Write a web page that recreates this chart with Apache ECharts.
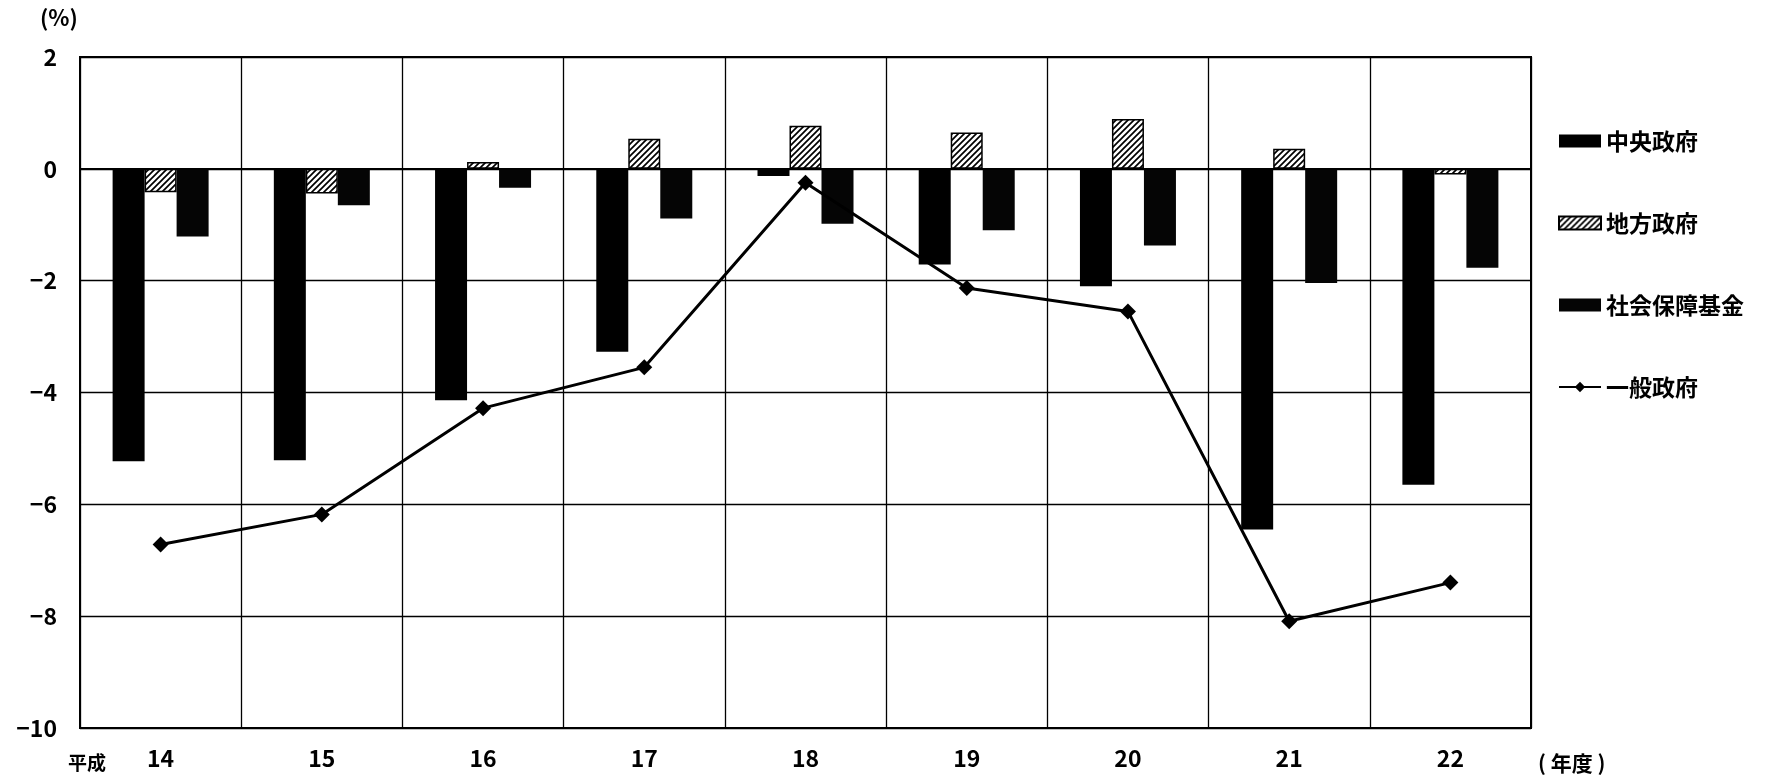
<!DOCTYPE html>
<html>
<head>
<meta charset="utf-8">
<script src="https://cdn.jsdelivr.net/npm/echarts@6/dist/echarts.min.js"></script>
<style>
html,body{margin:0;padding:0;background:#fff;}
#chart{width:1770px;height:783px;}
</style>
</head>
<body>
<div id="chart"></div>
<script>
// ---- data ----
const categories = ['14', '15', '16', '17', '18', '19', '20', '21', '22'];
const centralGov = [-5.23, -5.21, -4.14, -3.27, -0.13, -1.71, -2.10, -6.45, -5.65];
const localGov   = [-0.42, -0.44, 0.12, 0.54, 0.77, 0.65, 0.89, 0.36, -0.10];
const socialSec  = [-1.21, -0.65, -0.34, -0.89, -0.98, -1.10, -1.37, -2.04, -1.77];
const generalGov = [-6.72, -6.18, -4.28, -3.55, -0.25, -2.13, -2.55, -8.09, -7.40];
const seriesNames = ['中央政府', '地方政府', '社会保障基金', '一般政府'];
const yMin = -10, yMax = 2, yStep = 2;

const FONT = '"Noto Sans CJK JP", "DejaVu Sans", sans-serif';

function hatchPattern() {
  const s = 6;
  const c = document.createElement('canvas');
  c.width = s; c.height = s;
  const g = c.getContext('2d');
  g.fillStyle = '#fff';
  g.fillRect(0, 0, s, s);
  g.strokeStyle = '#000';
  g.lineWidth = 1.7;
  g.beginPath();
  g.moveTo(0, s); g.lineTo(s, 0);
  g.moveTo(-s / 2, s / 2); g.lineTo(s / 2, -s / 2);
  g.moveTo(s / 2, s * 1.5); g.lineTo(s * 1.5, s / 2);
  g.stroke();
  return c;
}

const chart = echarts.init(document.getElementById('chart'));
const option = {
  backgroundColor: '#fff',
  animation: false,
  grid: {
    left: 80, right: 239, top: 57, bottom: 55,
    show: true, borderColor: '#000', borderWidth: 2, backgroundColor: 'transparent'
  },
  legend: {
    orient: 'vertical',
    left: 1553, top: 124,
    itemWidth: 42, itemHeight: 13, itemGap: 58,
    data: [
      { name: seriesNames[0], icon: 'rect' },
      { name: seriesNames[1], icon: 'rect' },
      { name: seriesNames[2], icon: 'rect' },
      { name: seriesNames[3] }
    ],
    textStyle: { fontFamily: FONT, fontSize: 23, fontWeight: 'bold', color: '#000', lineHeight: 24 }
  },
  xAxis: {
    type: 'category',
    data: categories,
    axisLine: { onZero: false, show: false },
    axisTick: { show: false },
    axisLabel: { fontFamily: FONT, fontSize: 23, fontWeight: 'bold', color: '#000', margin: 19 },
    splitLine: { show: true, lineStyle: { color: '#000', width: 1.3 } }
  },
  yAxis: {
    type: 'value',
    min: yMin, max: yMax, interval: yStep,
    axisLine: { show: false },
    axisTick: { show: false },
    axisLabel: {
      fontFamily: FONT, fontSize: 23, fontWeight: 'bold', color: '#000', margin: 23,
      formatter: v => String(v).replace('-', '−')
    },
    splitLine: { show: true, lineStyle: { color: '#000', width: 1.3 } }
  },
  graphic: [
    { type: 'text', left: 40, top: 7, style: { text: '(%)', font: 'bold 22px ' + FONT, fill: '#000' } },
    { type: 'text', left: 68, top: 753, style: { text: '平成', font: 'bold 19px ' + FONT, fill: '#000' } },
    { type: 'text', left: 1538, top: 753, style: { text: '( 年度 )', font: 'bold 21px ' + FONT, fill: '#000' } }
  ],
  series: [
    {
      name: seriesNames[0], type: 'bar', data: centralGov,
      barWidth: 32, barGap: '0%', barCategoryGap: '40%',
      itemStyle: { color: '#000' },
      markLine: {
        silent: true, symbol: 'none', label: { show: false },
        lineStyle: { color: '#000', width: 2.2, type: 'solid' },
        data: [{ yAxis: 0 }]
      }
    },
    {
      name: seriesNames[1], type: 'bar', data: localGov,
      barWidth: 32,
      itemStyle: { color: { image: hatchPattern(), repeat: 'repeat' }, borderColor: '#000', borderWidth: 1.5 }
    },
    {
      name: seriesNames[2], type: 'bar', data: socialSec,
      barWidth: 32,
      itemStyle: { color: '#050505' }
    },
    {
      name: seriesNames[3], type: 'line', data: generalGov,
      symbol: 'diamond', symbolSize: 16,
      lineStyle: { color: '#000', width: 3 },
      itemStyle: { color: '#000' },
      z: 5
    }
  ]
};
chart.setOption(option);
</script>
</body>
</html>
